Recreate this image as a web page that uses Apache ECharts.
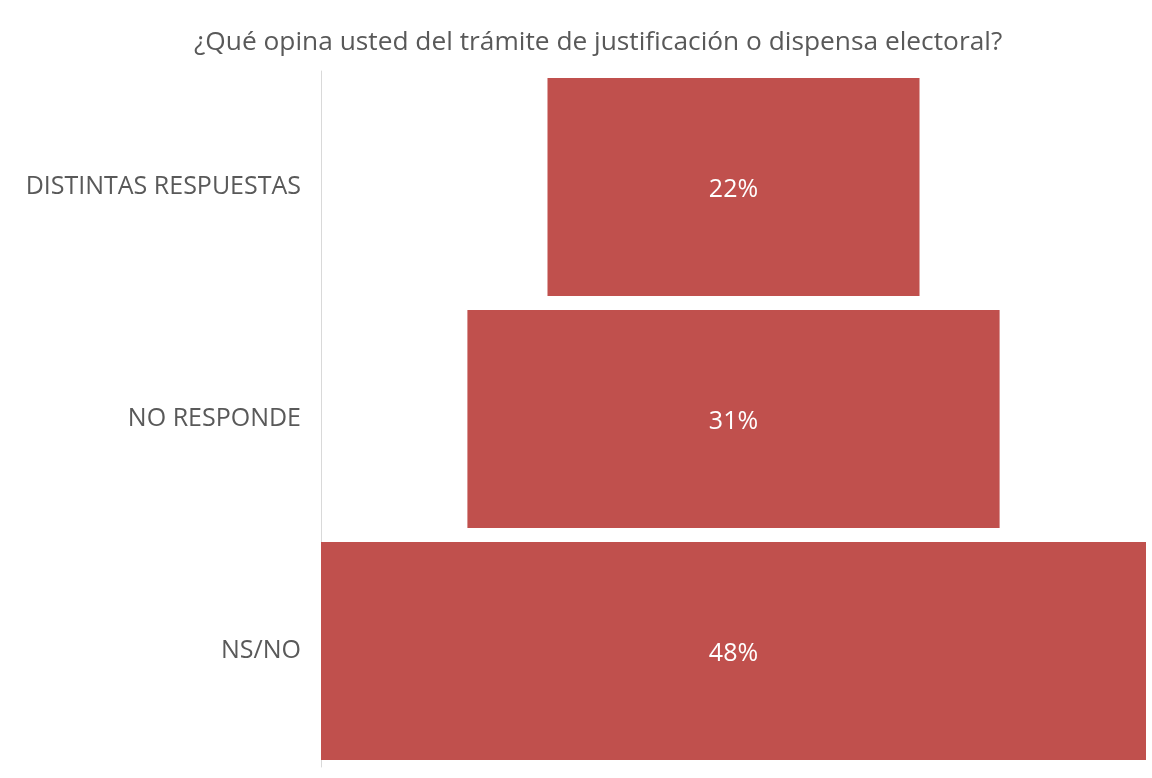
<!DOCTYPE html>
<html>
<head>
<meta charset="utf-8">
<script src="https://cdn.jsdelivr.net/npm/echarts@6/dist/echarts.min.js"></script>
<style>html,body{margin:0;padding:0;background:#fff;}#c{width:1152px;height:778px;}</style>
</head>
<body>
<div id="c"></div>
<script>
const titleText = '¿Qué opina usted del trámite de justificación o dispensa electoral?';
const categories = ['DISTINTAS RESPUESTAS', 'NO RESPONDE', 'NS/NO'];
const values = [21.6, 30.9, 47.9];
const labelsText = ['22%', '31%', '48%'];

const maxV = Math.max(...values);
const offsets = values.map(v => (maxV - v) / 2);
const FONT = '"Open Sans", "Noto Sans", sans-serif';

const chart = echarts.init(document.getElementById('c'));
chart.setOption({
  animation: false,
  title: {
    text: titleText,
    left: 189,
    top: 25,
    textStyle: { fontFamily: FONT, fontSize: 26.3, fontWeight: 'normal', color: '#595959' }
  },
  grid: { left: 321, right: 6, top: 71, bottom: 11, containLabel: false },
  xAxis: {
    type: 'value', min: 0, max: maxV,
    show: false
  },
  yAxis: {
    type: 'category',
    data: categories,
    inverse: true,
    axisLine: { show: true, lineStyle: { color: '#d9d9d9', width: 1 } },
    axisTick: { show: false },
    axisLabel: { fontFamily: FONT, fontSize: 25, color: '#595959', margin: 20, padding: [8, 0, 0, 0] }
  },
  series: [
    {
      type: 'bar', stack: 'f', data: offsets,
      itemStyle: { color: 'transparent' },
      barCategoryGap: '6%',
      silent: true
    },
    {
      type: 'bar', stack: 'f', data: values,
      itemStyle: { color: '#C0504D' },
      barCategoryGap: '6%',
      label: {
        show: true, position: 'inside',
        formatter: p => labelsText[p.dataIndex],
        fontFamily: FONT, fontSize: 25, color: '#ffffff', offset: [0, 3]
      }
    }
  ]
});
</script>
</body>
</html>
